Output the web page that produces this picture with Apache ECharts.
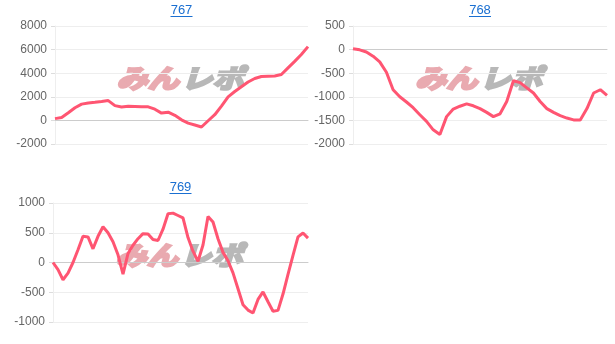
<!DOCTYPE html>
<html><head><meta charset="utf-8">
<script src="https://cdn.jsdelivr.net/npm/echarts@6/dist/echarts.min.js"></script>
<style>html,body{margin:0;padding:0;background:#fff}#c{width:615px;height:344px}</style>
</head><body><div id="c"></div>
<script>
const titles = ['767', '768', '769'];
const s767 = [150,250,650,1070,1380,1480,1530,1600,1680,1250,1130,1200,1180,1150,1150,950,620,700,430,50,-230,-390,-560,-30,480,1210,2000,2450,2850,3250,3550,3720,3750,3770,3890,4450,5000,5580,6250];
const s768 = [20,-5,-50,-140,-260,-480,-850,-1000,-1110,-1230,-1380,-1520,-1700,-1800,-1420,-1260,-1200,-1150,-1190,-1250,-1330,-1420,-1360,-1100,-660,-700,-810,-920,-1100,-1250,-1330,-1400,-1450,-1490,-1490,-1250,-920,-850,-970];
const s769 = [0,-120,-290,-180,0,215,440,430,230,440,600,500,350,130,-195,150,290,400,485,480,385,370,560,820,830,790,750,420,190,20,295,775,680,400,170,30,-175,-440,-710,-800,-850,-620,-495,-660,-820,-805,-530,-200,120,430,495,410];
const yMin = [-2000, -2000, -1000];
const yMax = [8000, 500, 1000];
const yInt = [2000, 500, 500];
const seriesData = [s767, s768, s769];

const grids = [
  {left: 55, top: 26, width: 253, height: 118},
  {left: 353, top: 26, width: 254, height: 118},
  {left: 53, top: 203, width: 255, height: 119}
];
const lineColor = '#ff5572';
const chart = echarts.init(document.getElementById('c'));
const option = {
  animation: false,
  title: [], grid: [], xAxis: [], yAxis: [], series: [], graphic: []
};
const wmFont = 'italic bold 26px "Noto Sans CJK JP"';
grids.forEach((g, i) => {
  const cx = g.left + g.width / 2;
  option.title.push({
    text: titles[i], left: cx, top: g.top - 22, textAlign: 'center', padding: 0,
    textStyle: {color: '#1a6fd1', fontSize: 13, fontWeight: 'normal', fontFamily: 'Arial, Liberation Sans'}
  });
  option.graphic.push({
    type: 'line', shape: {x1: cx - 11, y1: g.top - 9.5, x2: cx + 11, y2: g.top - 9.5},
    style: {stroke: '#1a6fd1', lineWidth: 1}
  });
  option.graphic.push({
    type: 'group', x: cx - 65, y: g.top + 39, scaleX: 1.2, z: 0,
    children: [
      {type: 'text', x: 0, y: 0, style: {text: 'みん', font: wmFont, fill: '#e9aab0', stroke: '#e9aab0', lineWidth: 2.5}},
      {type: 'text', x: 54, y: 0, style: {text: 'レポ', font: wmFont, fill: '#b8b8b8', stroke: '#b8b8b8', lineWidth: 2.5}}
    ]
  });
  option.grid.push(Object.assign({containLabel: false}, g));
  option.xAxis.push({
    type: 'category', gridIndex: i, boundaryGap: false,
    data: seriesData[i].map((_, k) => k + 1),
    axisLine: {lineStyle: {color: '#ccc'}}, axisTick: {show: false}, axisLabel: {show: false}
  });
  option.yAxis.push({
    type: 'value', gridIndex: i, min: yMin[i], max: yMax[i], interval: yInt[i],
    axisLine: {show: true, lineStyle: {color: '#eee'}},
    axisTick: {show: true, length: 4, lineStyle: {color: '#ddd'}},
    axisLabel: {color: '#666', fontSize: 12, margin: 8, fontFamily: 'Arial, Liberation Sans', formatter: v => String(v)},
    splitLine: {lineStyle: {color: '#eee'}}
  });
  option.series.push({
    type: 'line', xAxisIndex: i, yAxisIndex: i, data: seriesData[i],
    showSymbol: false, symbol: 'none', z: 3,
    lineStyle: {color: lineColor, width: 3}
  });
});
chart.setOption(option);
</script></body></html>
